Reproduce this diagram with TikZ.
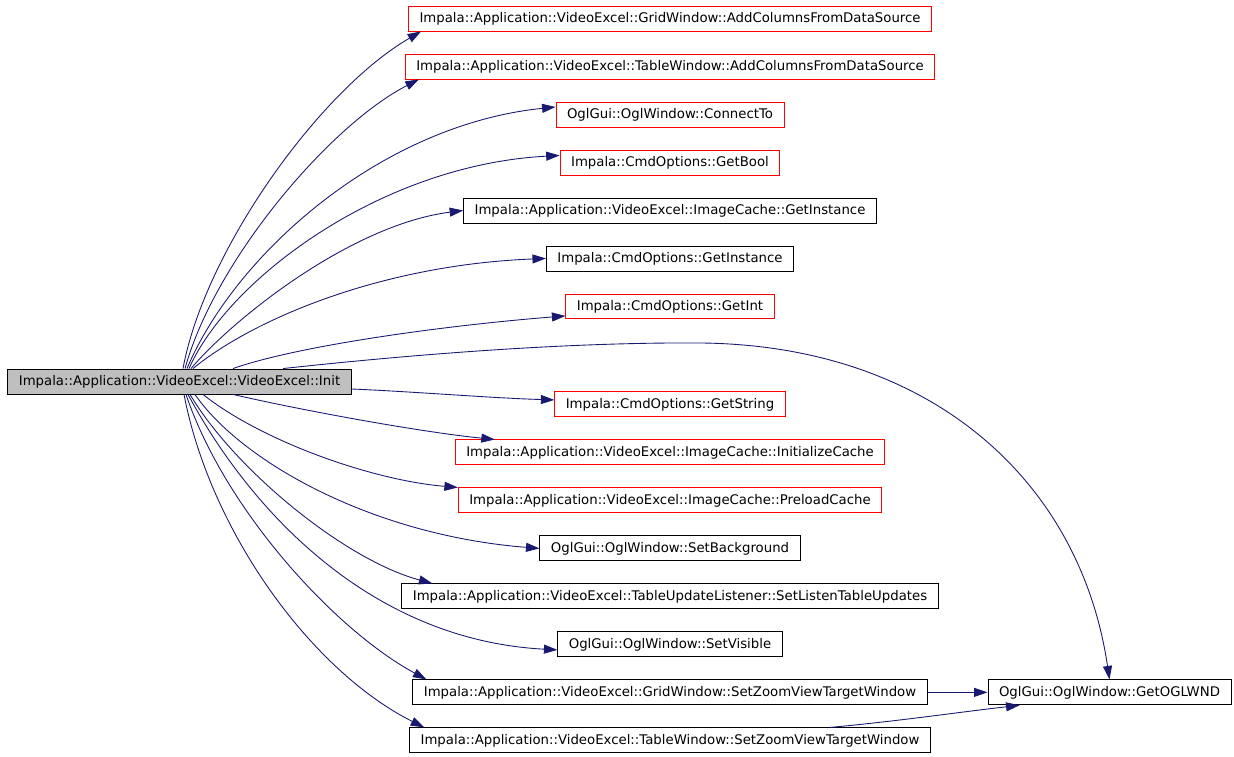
\documentclass[tikz,border=0pt]{standalone}
\usepackage{fontspec}
\setmainfont{DejaVu Sans}
\usetikzlibrary{arrows.meta, positioning, shapes}
\definecolor{edgeblue}{RGB}{25,25,112}
\definecolor{rootgray}{RGB}{191,191,191}
\tikzstyle{fn_style} = [rectangle, draw=black, line width=0.5pt, inner xsep=0.22cm, minimum height=0.5cm, font=\fontsize{7.56}{9}\selectfont]
\tikzstyle{fn_red} = [fn_style, draw=red]
\tikzstyle{root_style} = [fn_style, fill=rootgray]
\tikzstyle{arrow_style} = [edgeblue, line width=0.5pt, -{Triangle[length=0.27cm, width=0.18cm]}]

\begin{document}
\begin{tikzpicture}[x=0.02cm, y=0.02cm, node distance=0.96cm]
  \useasboundingbox (0,0) rectangle (1234,757);

  % caller
  \node[root_style] (init) at (179.5,375.5) {Impala::Application::VideoExcel::VideoExcel::Init};

  % callees
  \node[fn_red] (n1) at (670,738.5) {Impala::Application::VideoExcel::GridWindow::AddColumnsFromDataSource};
  \node[fn_red, below of=n1] (n2) {Impala::Application::VideoExcel::TableWindow::AddColumnsFromDataSource};
  \node[fn_red, below of=n2] (n3) {OglGui::OglWindow::ConnectTo};
  \node[fn_red, below of=n3] (n4) {Impala::CmdOptions::GetBool};
  \node[fn_style, below of=n4] (n5) {Impala::Application::VideoExcel::ImageCache::GetInstance};
  \node[fn_style, below of=n5] (n6) {Impala::CmdOptions::GetInstance};
  \node[fn_red, below of=n6] (n7) {Impala::CmdOptions::GetInt};
  \node[fn_red, below of=n7, yshift=-1cm] (n8) {Impala::CmdOptions::GetString};
  \node[fn_red, below of=n8] (n9) {Impala::Application::VideoExcel::ImageCache::InitializeCache};
  \node[fn_red, below of=n9] (n10) {Impala::Application::VideoExcel::ImageCache::PreloadCache};
  \node[fn_style, below of=n10] (n11) {OglGui::OglWindow::SetBackground};
  \node[fn_style, below of=n11] (n12) {Impala::Application::VideoExcel::TableUpdateListener::SetListenTableUpdates};
  \node[fn_style, below of=n12] (n13) {OglGui::OglWindow::SetVisible};
  \node[fn_style, below of=n13] (n14) {Impala::Application::VideoExcel::GridWindow::SetZoomViewTargetWindow};
  \node[fn_style, below of=n14] (n15) {Impala::Application::VideoExcel::TableWindow::SetZoomViewTargetWindow};
  \node[fn_style, right=1.2cm of n14] (n16) {OglGui::OglWindow::GetOGLWND};

  % upper calls
  \draw[arrow_style] ([xshift=0.07cm]init.north) .. controls (205,507) and (320,667) .. ([xshift=0.26cm]n1.south west);
  \draw[arrow_style] ([xshift=0.11cm]init.north) .. controls (215,497) and (330,632) .. ([xshift=0.28cm]n2.south west);
  \draw[arrow_style] ([xshift=0.15cm]init.north) .. controls (235,502) and (380,632) .. ([yshift=0.15cm]n3.west);
  \draw[arrow_style] ([xshift=0.19cm]init.north) .. controls (228,477) and (380,592) .. ([yshift=0.14cm]n4.west);
  \draw[arrow_style] ([xshift=0.23cm]init.north) .. controls (232,437) and (350,532) .. (n5.west);
  \draw[arrow_style] ([xshift=0.27cm]init.north) .. controls (252,437) and (380,492) .. (n6.west);
  \draw[arrow_style] ([xshift=1.07cm]init.north) .. controls (300,412) and (450,432) .. ([yshift=-0.19cm]n7.west);
  \draw[arrow_style] ([xshift=2.07cm]init.north) .. controls (380,399) and (550,415) .. (700,414)
                     .. controls (930,412) and (1080,277) .. (n16.north);

  % lower calls
  \draw[arrow_style] ([yshift=-0.15cm]init.east) .. controls (420,365) and (490,359) .. ([yshift=0.09cm]n8.west);
  \draw[arrow_style] ([xshift=1.07cm]init.south) .. controls (300,347) and (420,325) .. ([xshift=0.8cm]n9.north west);
  \draw[arrow_style] ([xshift=0.47cm]init.south) .. controls (260,317) and (370,277) .. (n10.north west);
  \draw[arrow_style] ([xshift=0.31cm]init.south) .. controls (240,297) and (370,222) .. (n11.west);
  \draw[arrow_style] ([xshift=0.21cm]init.south) .. controls (235,287) and (345,197) .. ([xshift=0.62cm]n12.north west);
  \draw[arrow_style] ([xshift=0.17cm]init.south) .. controls (250,247) and (370,117) .. ([yshift=-0.11cm]n13.west);
  \draw[arrow_style] ([xshift=0.13cm]init.south) .. controls (225,247) and (335,127) .. ([xshift=0.28cm]n14.north west);
  \draw[arrow_style] ([xshift=0.09cm]init.south) .. controls (210,227) and (310,87) .. ([xshift=0.3cm]n15.north west);

  % into GetOGLWND
  \draw[arrow_style] (n14.east) -- (n16.west);
  \draw[arrow_style] ([xshift=3.2cm]n15.north) .. controls (900,36) and (960,45) .. ([xshift=0.64cm]n16.south west);

\end{tikzpicture}
\end{document}
